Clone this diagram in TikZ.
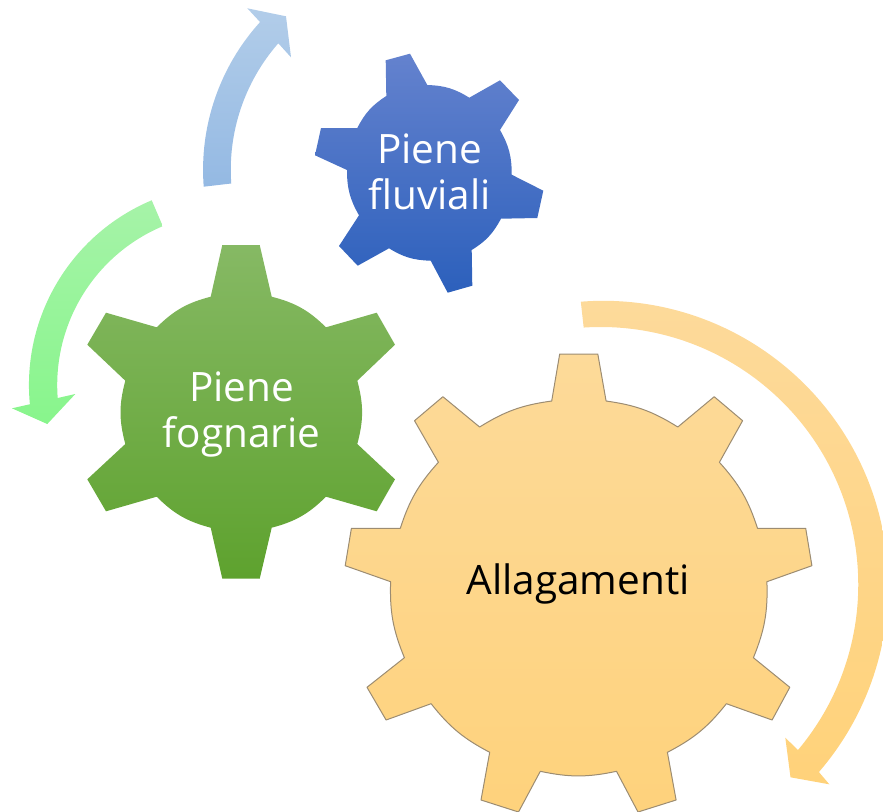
\documentclass[tikz,border=0pt]{standalone}
\usepackage{fontspec}
\setmainfont{Open Sans}
\definecolor{gearedge}{HTML}{9C8C72}

\tikzset{
  gearlabel/.style={align=center, font=\fontsize{40.5}{46}\selectfont},
  yellowgear/.style={top color={rgb,255:red,253;green,218;blue,153}, bottom color={rgb,255:red,254;green,210;blue,124}, draw=gearedge, line width=1pt, line join=round},
  greengear/.style={top color={rgb,255:red,134;green,185;blue,100}, bottom color={rgb,255:red,94;green,162;blue,46}},
  bluegear/.style={top color={rgb,255:red,100;green,130;blue,206}, bottom color={rgb,255:red,44;green,96;blue,188}},
  yellowturn/.style={top color={rgb,255:red,253;green,218;blue,155}, bottom color={rgb,255:red,255;green,210;blue,122}},
  greenturn/.style={top color={rgb,255:red,166;green,243;blue,168}, bottom color={rgb,255:red,136;green,245;blue,140}},
  blueturn/.style={top color={rgb,255:red,178;green,205;blue,233}, bottom color={rgb,255:red,148;green,185;blue,227}},
}

\begin{document}
\begin{tikzpicture}[x=1pt, y=-1pt]

  \clip (0, 0) rectangle (883, 811);

    % Allagamenti
    \shade[yellowgear] (559.7, 354) -- (597.8, 354) -- (606.1, 401)
      to[bend left=12] (677.8, 427) -- (714.2, 396.7) -- (742.6, 420.7) -- (719.4, 462.3)
      to[bend left=12] (757.5, 528.3) -- (805.7, 528.3) -- (811.9, 565.7) -- (766.9, 581.7)
      to[bend left=12] (753.4, 657.7) -- (789.8, 687.3) -- (772.1, 720) -- (726.4, 703.7)
      to[bend left=12] (667.4, 752.3) -- (676.1, 800) -- (638, 812) -- (616.5, 771.3)
      to[bend left=12] (540.3, 771.3) -- (518.5, 812) -- (481, 800) -- (489.7, 752.3)
      to[bend left=12] (431.1, 703.7) -- (386.1, 720) -- (367, 687.3) -- (404.4, 657.7)
      to[bend left=12] (390.6, 581.7) -- (345.2, 565.7) -- (351.4, 528.3) -- (400.3, 528.3)
      to[bend left=12] (438.4, 462.3) -- (414.5, 420.7) -- (442.9, 396.7) -- (479.6, 427)
      to[bend left=12] (551.7, 401) -- cycle;
    \node[gearlabel, text=black] (allagamenti) at (578, 584) {Allagamenti};
    \shade[yellowturn] (580.8, 301.7) arc[start angle=-94.5, end angle=40.8, radius=285]
      -- (829.3, 784.3) -- (790.5, 777.3) -- (785.3, 737.7) -- (798, 750)
      arc[start angle=40, end angle=-93.8, radius=257.5] -- cycle;

    % Piene fognarie
    \shade[greengear] (222.3, 245) -- (259.7, 245) -- (271.7, 296.7)
      to[bend left=15] (326, 327.3) -- (376.7, 312.7) -- (395, 344.7) -- (357.3, 380.7)
      to[bend left=15] (357.3, 444) -- (395, 479.3) -- (376.7, 511.3) -- (326, 496.7)
      to[bend left=15] (271.7, 527.7) -- (259.7, 578.7) -- (222.3, 578.7) -- (210.7, 527.7)
      to[bend left=15] (156.7, 496.7) -- (106, 511.3) -- (87.3, 479.3) -- (125.3, 444)
      to[bend left=15] (125.3, 380.7) -- (87.3, 344.7) -- (106, 312.7) -- (156.7, 327.3)
      to[bend left=15] (210.7, 296.7) -- cycle;
    \node[gearlabel, text=white] (fognarie) at (241.5, 414) {Piene\\fognarie};
    \shade[greenturn] (151.7, 200.3) arc[start angle=247.2, end angle=174.5, radius=200.4]
      -- (12, 408.3) -- (47.3, 424) -- (75.3, 394) -- (57.7, 398)
      arc[start angle=175.7, end angle=247.2, radius=172.4] -- cycle;

    % Piene fluviali
    \shade[bluegear] (385.7, 60.3) -- (410, 53.7) -- (427.3, 85)
      to[bend left=15] (469.3, 97.7) -- (500, 80.3) -- (519, 100) -- (500, 130)
      to[bend left=15] (511.7, 174.7) -- (543.3, 190.7) -- (537.3, 218) -- (501, 218.7)
      to[bend left=15] (471.7, 250) -- (472.3, 285.7) -- (447.7, 292.7) -- (430.7, 260.7)
      to[bend left=15] (389, 248.3) -- (357.7, 265.7) -- (339, 246) -- (359, 215.3)
      to[bend left=15] (347, 170) -- (315, 155.3) -- (321, 128) -- (357.3, 128)
      to[bend left=15] (386.3, 96) -- cycle;
    \node[gearlabel, text=white] (fluviali) at (429.5, 172) {Piene\\fluviali};
    \shade[blueturn] (203.7, 186.7) arc[start angle=175.6, end angle=222.2, radius=220]
      -- (247.3, 8.3) -- (286, 16.3) -- (291, 57.3) -- (278.3, 43.3)
      arc[start angle=221.2, end angle=175.9, radius=192] -- cycle;

\end{tikzpicture}
\end{document}
